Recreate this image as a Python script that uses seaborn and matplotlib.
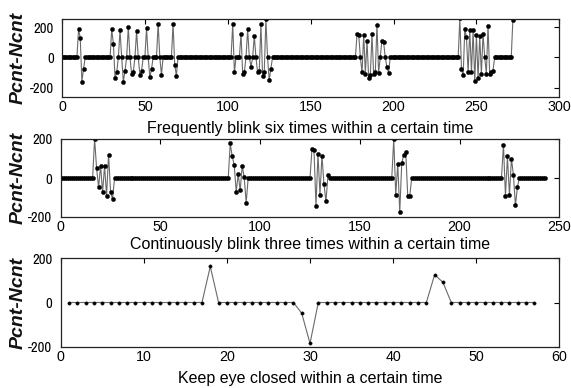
import numpy as np
import pandas as pd
import matplotlib
matplotlib.use("Agg")
import matplotlib.pyplot as plt
from matplotlib import font_manager
import seaborn as sns

# ---------------- data ----------------
# Panel 1: "Frequently blink six times within a certain time"
blink6_first, blink6_last = 0, 272
blink6_b1_start, blink6_b1 = 10, [185, 130, -160, -75]
blink6_b2_start, blink6_b2 = 30, [185, 90, -138, -100, 0, 178, 0, -160, -90, 0,
                                  200, 0, -111, -100, 0, 173, 0, -118, -90, 0,
                                  0, 193, 0, -133, -78, 0, 0, 0, 222, 0,
                                  -116, 0, 0, 0, 0, 0, 0, 222, -49, -122]
blink6_b3_start, blink6_b3 = 103, [222, -100, 0, 0, 0, 155, -111, -97, 0, 185,
                                   0, -62, 0, 140, 0, -100, -90, 222, -122, -100,
                                   250, 0, -150, -75, 0]
blink6_b4_start, blink6_b4 = 178, [155, 150, 0, -100, 150, -107, 109, -135, -120, 155,
                                   -111, -100, 215, -104, 0, 111, 100, 0, -64, -104]
blink6_b5_start, blink6_b5 = 240, [258, -80, -120, 187, 133, -98, 180, -98, 178, -158,
                                   147, -135, 140, -110, 157, 0, -107, 207, -107, -100, -89]
blink6_b6_start, blink6_b6 = 272, [248]

# Panel 2: "Continuously blink three times within a certain time"
blink3_first, blink3_last = 0, 243
blink3_b1_start, blink3_b1 = 17, [200, 50, -48, 63, -74, 63, -92, 120, -70, -109]
blink3_b2_start, blink3_b2 = 85, [177, 111, 66, -70, 20, -64, 63, 5, -127]
blink3_b3_start, blink3_b3 = 126, [150, 143, -143, 122, -85, 115, -32, -120, 13]
blink3_b4_start, blink3_b4 = 167, [200, -88, 74, -175, 75, 120, 135, -90, -94]
blink3_b5_start, blink3_b5 = 222, [170, -92, 111, -88, 100, 15, -141, -45]

# Panel 3: "Keep eye closed within a certain time"
closed_first, closed_last = 1, 57
closed_b1_start, closed_b1 = 18, [163]
closed_b2_start, closed_b2 = 29, [-48, -185]
closed_b3_start, closed_b3 = 45, [126, 91]

titles = ["Frequently blink six times within a certain time",
          "Continuously blink three times within a certain time",
          "Keep eye closed within a certain time"]
ylabel = "Pcnt-Ncnt"
xlims = [(0, 300), (0, 250), (0, 60)]
ylims = [(-260, 253), (-200, 200), (-200, 200)]
xticks = [[0, 50, 100, 150, 200, 250, 300],
          [0, 50, 100, 150, 200, 250],
          [0, 10, 20, 30, 40, 50, 60]]
yticks = [-200, 0, 200]


def build(first, last, bursts):
    t = np.arange(first, last + 1)
    v = np.zeros(len(t))
    for start, vals in bursts:
        i0 = start - first
        v[i0:i0 + len(vals)] = vals
    return pd.DataFrame({"t": t, "v": v})


frames = [
    build(blink6_first, blink6_last,
          [(blink6_b1_start, blink6_b1), (blink6_b2_start, blink6_b2),
           (blink6_b3_start, blink6_b3), (blink6_b4_start, blink6_b4),
           (blink6_b5_start, blink6_b5), (blink6_b6_start, blink6_b6)]),
    build(blink3_first, blink3_last,
          [(blink3_b1_start, blink3_b1), (blink3_b2_start, blink3_b2),
           (blink3_b3_start, blink3_b3), (blink3_b4_start, blink3_b4),
           (blink3_b5_start, blink3_b5)]),
    build(closed_first, closed_last,
          [(closed_b1_start, closed_b1), (closed_b2_start, closed_b2),
           (closed_b3_start, closed_b3)]),
]
marker_sizes = [3.0, 3.0, 2.4]

# ---------------- style ----------------
sns.set_theme(style="white")
plt.rcParams["font.family"] = ["Liberation Sans", "DejaVu Sans"]
plt.rcParams["axes.unicode_minus"] = False

# a narrow face for the squeezed y tick labels, if one is installed
narrow = None
for f in font_manager.fontManager.ttflist:
    if "Narrow" in f.name or "Condensed" in f.name:
        narrow = f.name
        break
ytick_font, ytick_size = (narrow, 10.5) if narrow else ("Liberation Sans", 9.2)

W, H = 571, 388
fig = plt.figure(figsize=(W / 100, H / 100), dpi=100)
fig.patch.set_facecolor("white")

# axes boxes in pixels: left, top, right, bottom
boxes = [(62, 19, 559.3, 96.7), (60.7, 139, 559.3, 217), (60.7, 258.3, 559.3, 346.7)]
label_y = [128, 245, 378]

for i, (df, (l, t, r, b)) in enumerate(zip(frames, boxes)):
    ax = fig.add_axes([l / W, 1 - b / H, (r - l) / W, (b - t) / H])
    sns.lineplot(data=df, x="t", y="v", ax=ax, color="#6a6a6a", linewidth=0.8,
                 marker="o", markersize=marker_sizes[i], markerfacecolor="black",
                 markeredgecolor="black", markeredgewidth=0.3,
                 estimator=None, sort=False)
    ax.set_xlim(*xlims[i])
    ax.set_ylim(*ylims[i])
    ax.set_xticks(xticks[i])
    ax.set_yticks(yticks)
    ax.tick_params(direction="in", top=True, right=True, length=3.5, width=0.8,
                   colors="black")
    ax.tick_params(axis="x", labelsize=10.3, pad=2.5)
    ax.tick_params(axis="y", labelsize=ytick_size, pad=6)
    for lab in ax.get_yticklabels():
        lab.set_fontfamily(ytick_font)
    for s in ax.spines.values():
        s.set_color("#222222")
        s.set_linewidth(0.9)
    ax.set_xlabel(titles[i], fontsize=11.5, color="black", va="center")
    ax.xaxis.set_label_coords(0.5, (b - label_y[i]) / (b - t))
    ax.set_ylabel(ylabel, fontsize=14, fontstyle="italic", fontweight="bold",
                  color="#111111", va="center")
    ax.yaxis.set_label_coords((18.5 - l) / (r - l), 0.5)
    ax.grid(False)

fig.savefig("out.png", dpi=100)
